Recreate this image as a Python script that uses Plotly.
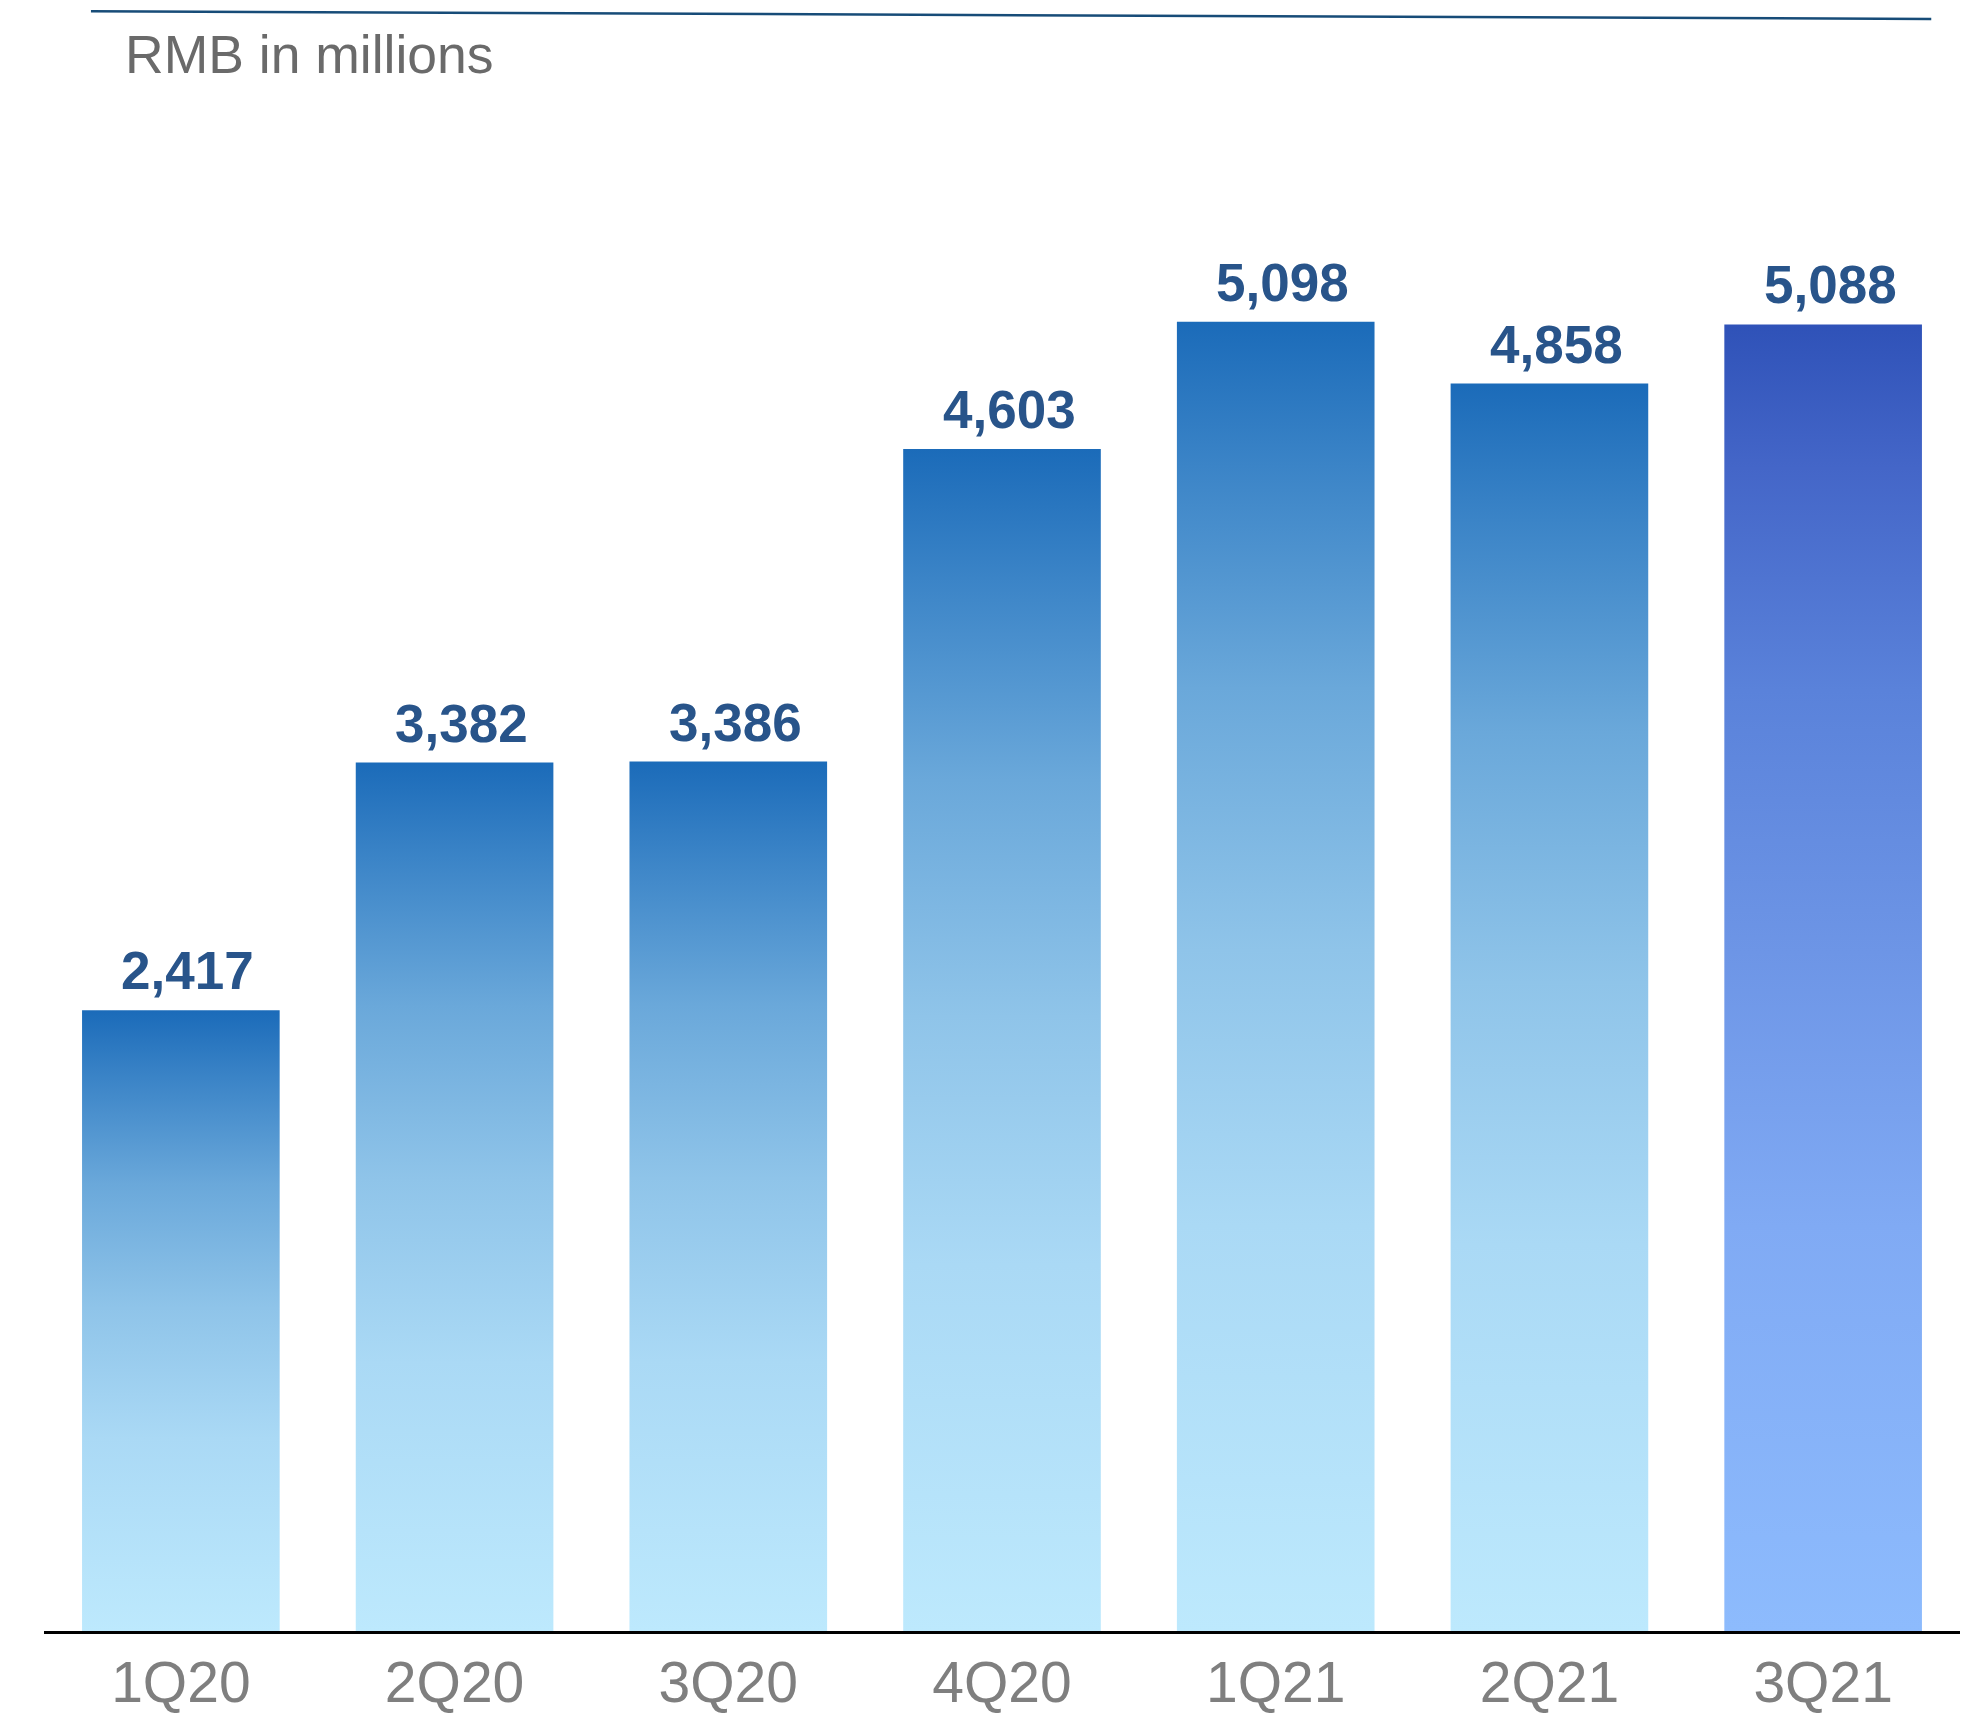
import plotly.graph_objects as go

# Quarterly figures, RMB in millions
quarters = ["1Q20", "2Q20", "3Q20", "4Q20", "1Q21", "2Q21", "3Q21"]
values = [2417, 3382, 3386, 4603, 5098, 4858, 5088]
value_labels = ["2,417", "3,382", "3,386", "4,603", "5,098", "4,858", "5,088"]

# Vertical gradients (bottom -> top); the latest quarter is highlighted
base_scale = [[0.0, "#bde9fd"], [0.31, "#aad9f5"], [0.52, "#8fc4e9"],
              [0.72, "#6aa8da"], [0.89, "#3b84c7"], [1.0, "#1b6bb9"]]
highlight_scale = [[0.0, "#8dbbfd"], [0.31, "#80aaf4"], [0.52, "#6d95e6"],
                   [0.72, "#5a82da"], [0.89, "#4466c8"], [1.0, "#2f52b8"]]

FONT = "Liberation Sans, Arial, Helvetica, sans-serif"
half_width = 0.361

fig = go.Figure()
for i, (q, v) in enumerate(zip(quarters, values)):
    scale = highlight_scale if i == len(quarters) - 1 else base_scale
    fig.add_trace(go.Scatter(
        x=[i - half_width, i + half_width, i + half_width, i - half_width, i - half_width],
        y=[0, 0, v, v, 0],
        mode="none",
        fill="toself",
        fillgradient=dict(type="vertical", colorscale=scale, start=0, stop=v),
        hoverinfo="skip",
        showlegend=False,
        name=q,
    ))
    fig.add_annotation(
        x=i, y=v, text=value_labels[i], showarrow=False,
        xanchor="center", yanchor="bottom", xshift=7, yshift=8,
        font=dict(family=FONT, size=53, color="#28548a", weight="bold"),
    )

# Unit caption and the rule above it
fig.add_annotation(
    xref="paper", yref="paper", x=0.0412, y=1.0294,
    xanchor="left", yanchor="middle", showarrow=False,
    text="RMB in millions",
    font=dict(family=FONT, size=53.5, color="#6a6a6a"),
)
fig.add_shape(
    type="line", xref="paper", yref="paper",
    x0=0.0245, y0=1.058, x1=0.985, y1=1.0529,
    line=dict(color="#174c78", width=2.5),
)

fig.update_layout(
    width=1972, height=1714,
    margin=dict(l=44, r=12, t=100, b=83),
    plot_bgcolor="white", paper_bgcolor="white",
    xaxis=dict(
        range=[-0.5, 6.5], tickvals=list(range(len(quarters))), ticktext=quarters,
        showgrid=False, zeroline=False, showline=True, linecolor="black", linewidth=3,
        ticks="", tickfont=dict(family=FONT, size=57, color="#7f7f7f"),
        automargin=False, fixedrange=True,
    ),
    yaxis=dict(
        range=[0, 5962], visible=False, showgrid=False, zeroline=False,
        automargin=False, fixedrange=True,
    ),
)

fig.write_html("out.html")
